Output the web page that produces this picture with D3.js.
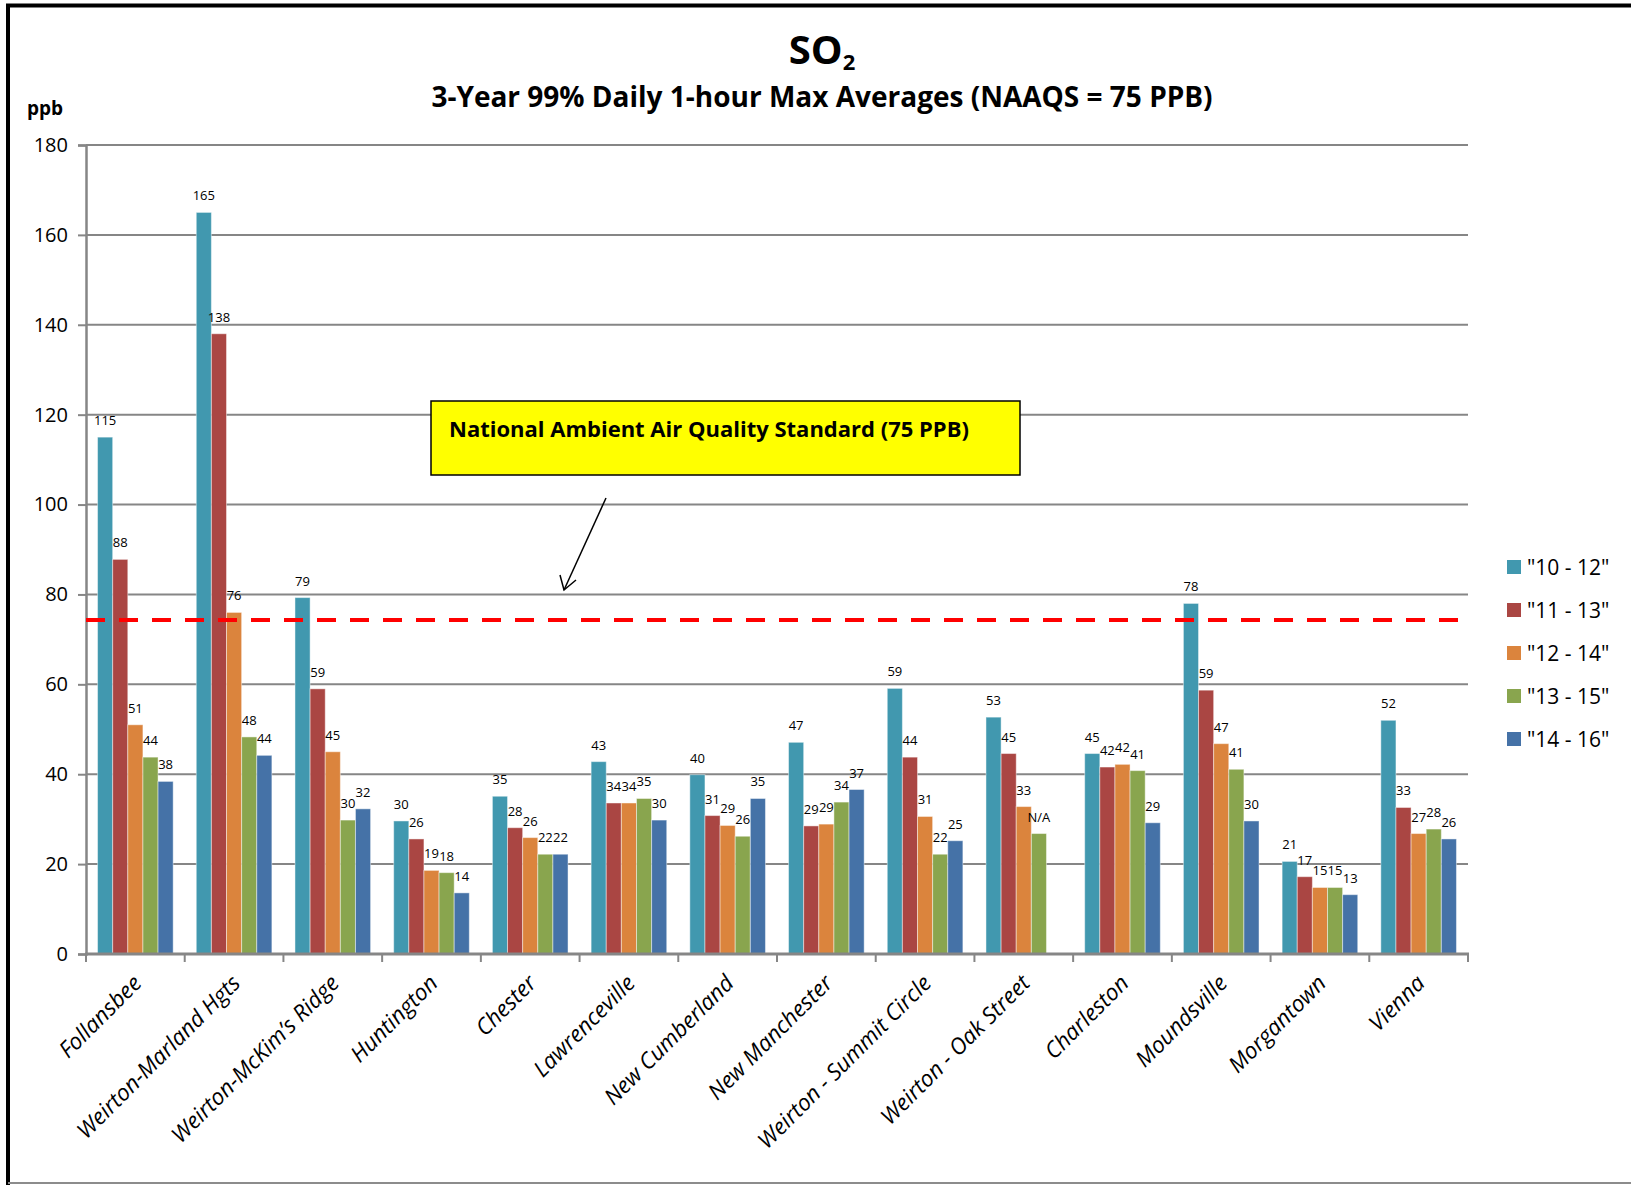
<!DOCTYPE html>
<html>
<head>
<meta charset="utf-8">
<script src="https://cdn.jsdelivr.net/npm/d3@7"></script>
<style>
  body { margin: 0; background: #fff; }
  svg { display: block; font-family: "Open Sans", "Noto Sans", sans-serif; }
</style>
</head>
<body>
<div id="chart"></div>
<script>
// monitoring sites
const sites = [
  "Follansbee", "Weirton-Marland Hgts", "Weirton-McKim\u2019s Ridge", "Huntington",
  "Chester", "Lawrenceville", "New Cumberland", "New Manchester",
  "Weirton - Summit Circle", "Weirton - Oak Street", "Charleston",
  "Moundsville", "Morgantown", "Vienna"
];

const periods = ['"10 - 12"', '"11 - 13"', '"12 - 14"', '"13 - 15"', '"14 - 16"'];

// ppb values per period (null = no data)
const v1012 = [115, 165, 79.3, 29.6, 35.1, 42.8, 39.9, 47.1, 59.1, 52.7, 44.6, 78.0, 20.6, 52.0];
const v1113 = [87.8, 138, 59, 25.6, 28.1, 33.6, 30.8, 28.5, 43.8, 44.6, 41.6, 58.7, 17.2, 32.6];
const v1214 = [51, 76, 45, 18.6, 25.9, 33.6, 28.6, 28.9, 30.6, 32.8, 42.2, 46.8, 14.8, 26.8];
const v1315 = [43.8, 48.3, 29.8, 18.1, 22.2, 34.6, 26.2, 33.8, 22.2, 26.8, 40.8, 41.1, 14.8, 27.8];
const v1416 = [38.4, 44.2, 32.3, 13.6, 22.2, 29.8, 34.6, 36.6, 25.2, null, 29.2, 29.6, 13.2, 25.6];

const yTicks = [0, 20, 40, 60, 80, 100, 120, 140, 160, 180];
const naaqs = 74.3; // drawn position of the 75 ppb standard line
const naLabel = { site: "Weirton - Oak Street", period: 3 }; // label shown as N/A

const colors = ["#4198AF", "#AA4643", "#DB843D", "#89A54E", "#4572A7"];

const series = [v1012, v1113, v1214, v1315, v1416];

const W = 1631, H = 1185;
const plot = { left: 86, right: 1468, top: 145, bottom: 954 };

const svg = d3.select("#chart").append("svg")
  .attr("width", W)
  .attr("height", H);

// frame
svg.append("line").attr("x1", 6).attr("x2", W).attr("y1", 5.5).attr("y2", 5.5)
  .attr("stroke", "#000").attr("stroke-width", 4);
svg.append("line").attr("x1", 8).attr("x2", 8).attr("y1", 4).attr("y2", H)
  .attr("stroke", "#000").attr("stroke-width", 4);
svg.append("line").attr("x1", 8).attr("x2", W).attr("y1", 1183).attr("y2", 1183)
  .attr("stroke", "#8c8c8c").attr("stroke-width", 2);

// scales
const x = d3.scaleBand()
  .domain(sites)
  .range([plot.left, plot.right])
  .paddingInner(0.234)
  .paddingOuter(0.117);

const xs = d3.scaleBand()
  .domain(d3.range(periods.length))
  .range([0, x.bandwidth()]);

const y = d3.scaleLinear().domain([0, 180]).range([plot.bottom, plot.top]);

// gridlines + y axis
const yAxis = svg.append("g")
  .attr("transform", "translate(" + plot.left + ",0)")
  .call(d3.axisLeft(y).tickValues(yTicks).tickSize(8).tickPadding(10)
    .tickFormat(d3.format("d")));
yAxis.select(".domain").attr("stroke", "#868686").attr("stroke-width", 2.5);
yAxis.selectAll(".tick line").attr("stroke", "#868686").attr("stroke-width", 2);
yAxis.selectAll(".tick text")
  .attr("font-size", 20).attr("fill", "#000")
  .attr("font-family", "Open Sans");

svg.append("g")
  .selectAll("line")
  .data(yTicks.filter((d) => d > 0))
  .enter()
  .append("line")
  .attr("x1", plot.left)
  .attr("x2", plot.right)
  .attr("y1", (d) => y(d))
  .attr("y2", (d) => y(d))
  .attr("stroke", "#868686")
  .attr("stroke-width", 2);

// bars
const data = [];
sites.forEach((s, i) => {
  series.forEach((vals, k) => {
    if (vals[i] !== null) data.push({ site: s, k: k, value: vals[i] });
  });
});

const bars = svg.append("g");
bars.selectAll("rect")
  .data(data)
  .enter()
  .append("rect")
  .attr("x", (d) => x(d.site) + xs(d.k))
  .attr("y", (d) => y(d.value))
  .attr("width", xs.bandwidth())
  .attr("height", (d) => y(0) - y(d.value))
  .attr("fill", (d) => colors[d.k])
  .attr("stroke", "rgba(255,255,255,0.45)")
  .attr("stroke-width", 1);

// value labels
bars.selectAll("text")
  .data(data)
  .enter()
  .append("text")
  .attr("x", (d) => x(d.site) + xs(d.k) + xs.bandwidth() / 2)
  .attr("y", (d) => y(d.value) - 12)
  .attr("text-anchor", "middle")
  .attr("font-size", 13)
  .attr("fill", "#000")
  .text((d) => (d.site === naLabel.site && d.k === naLabel.period) ? "N/A" : d3.format(".0f")(d.value));

// x axis
const xAxis = svg.append("g");
xAxis.append("line")
  .attr("x1", plot.left - 1).attr("x2", plot.right + 1)
  .attr("y1", plot.bottom).attr("y2", plot.bottom)
  .attr("stroke", "#868686").attr("stroke-width", 3);
const step = x.step();
xAxis.selectAll(".xtick")
  .data(d3.range(sites.length + 1))
  .enter()
  .append("line")
  .attr("x1", (i) => plot.left + i * step)
  .attr("x2", (i) => plot.left + i * step)
  .attr("y1", plot.bottom)
  .attr("y2", plot.bottom + 8)
  .attr("stroke", "#868686")
  .attr("stroke-width", 2);

xAxis.selectAll(".xlabel")
  .data(sites)
  .enter()
  .append("text")
  .attr("transform", (d) => "translate(" + (x(d) + x.bandwidth() / 2 + 2) + "," + (plot.bottom + 25) + ") rotate(-45)")
  .attr("text-anchor", "end")
  .attr("dy", "0.35em")
  .attr("font-size", 22.5)
  .attr("font-style", "italic")
  .attr("fill", "#000")
  .text((d) => d);

// NAAQS line
svg.append("line")
  .attr("x1", plot.left)
  .attr("x2", plot.right)
  .attr("y1", y(naaqs))
  .attr("y2", y(naaqs))
  .attr("stroke", "#FF0000")
  .attr("stroke-width", 4)
  .attr("stroke-dasharray", "19,14");

// annotation box + arrow
svg.append("rect")
  .attr("x", 431).attr("y", 401)
  .attr("width", 589).attr("height", 74)
  .attr("fill", "#FFFF00")
  .attr("stroke", "#000")
  .attr("stroke-width", 1.5);
svg.append("text")
  .attr("x", 449).attr("y", 437)
  .attr("font-size", 22)
  .attr("font-weight", "bold")
  .text("National Ambient Air Quality Standard (75 PPB)");

svg.append("line")
  .attr("x1", 606).attr("y1", 498)
  .attr("x2", 564).attr("y2", 590)
  .attr("stroke", "#000").attr("stroke-width", 1.5);
svg.append("path")
  .attr("d", "M560,575 L564,590 L576,580")
  .attr("fill", "none")
  .attr("stroke", "#000")
  .attr("stroke-width", 1.5);

// titles
const t1 = svg.append("text")
  .attr("x", 822).attr("y", 64)
  .attr("text-anchor", "middle")
  .attr("font-size", 40)
  .attr("font-weight", "bold");
t1.append("tspan").text("SO");
t1.append("tspan").attr("font-size", 22).attr("dy", 6).text("2");

svg.append("text")
  .attr("x", 822).attr("y", 107)
  .attr("text-anchor", "middle")
  .attr("font-size", 28)
  .attr("font-weight", "bold")
  .text("3-Year 99% Daily 1-hour Max Averages (NAAQS = 75 PPB)");

svg.append("text")
  .attr("x", 27).attr("y", 115)
  .attr("font-size", 19)
  .attr("font-weight", "bold")
  .text("ppb");

// legend
const legend = svg.append("g").attr("transform", "translate(1507,560)");
const items = legend.selectAll("g")
  .data(periods)
  .enter()
  .append("g")
  .attr("transform", (d, i) => "translate(0," + i * 43 + ")");
items.append("rect")
  .attr("width", 14).attr("height", 14)
  .attr("fill", (d, i) => colors[i]);
items.append("text")
  .attr("x", 20).attr("y", 7)
  .attr("dy", "0.36em")
  .attr("font-size", 21)
  .text((d) => d);
</script>
</body>
</html>
